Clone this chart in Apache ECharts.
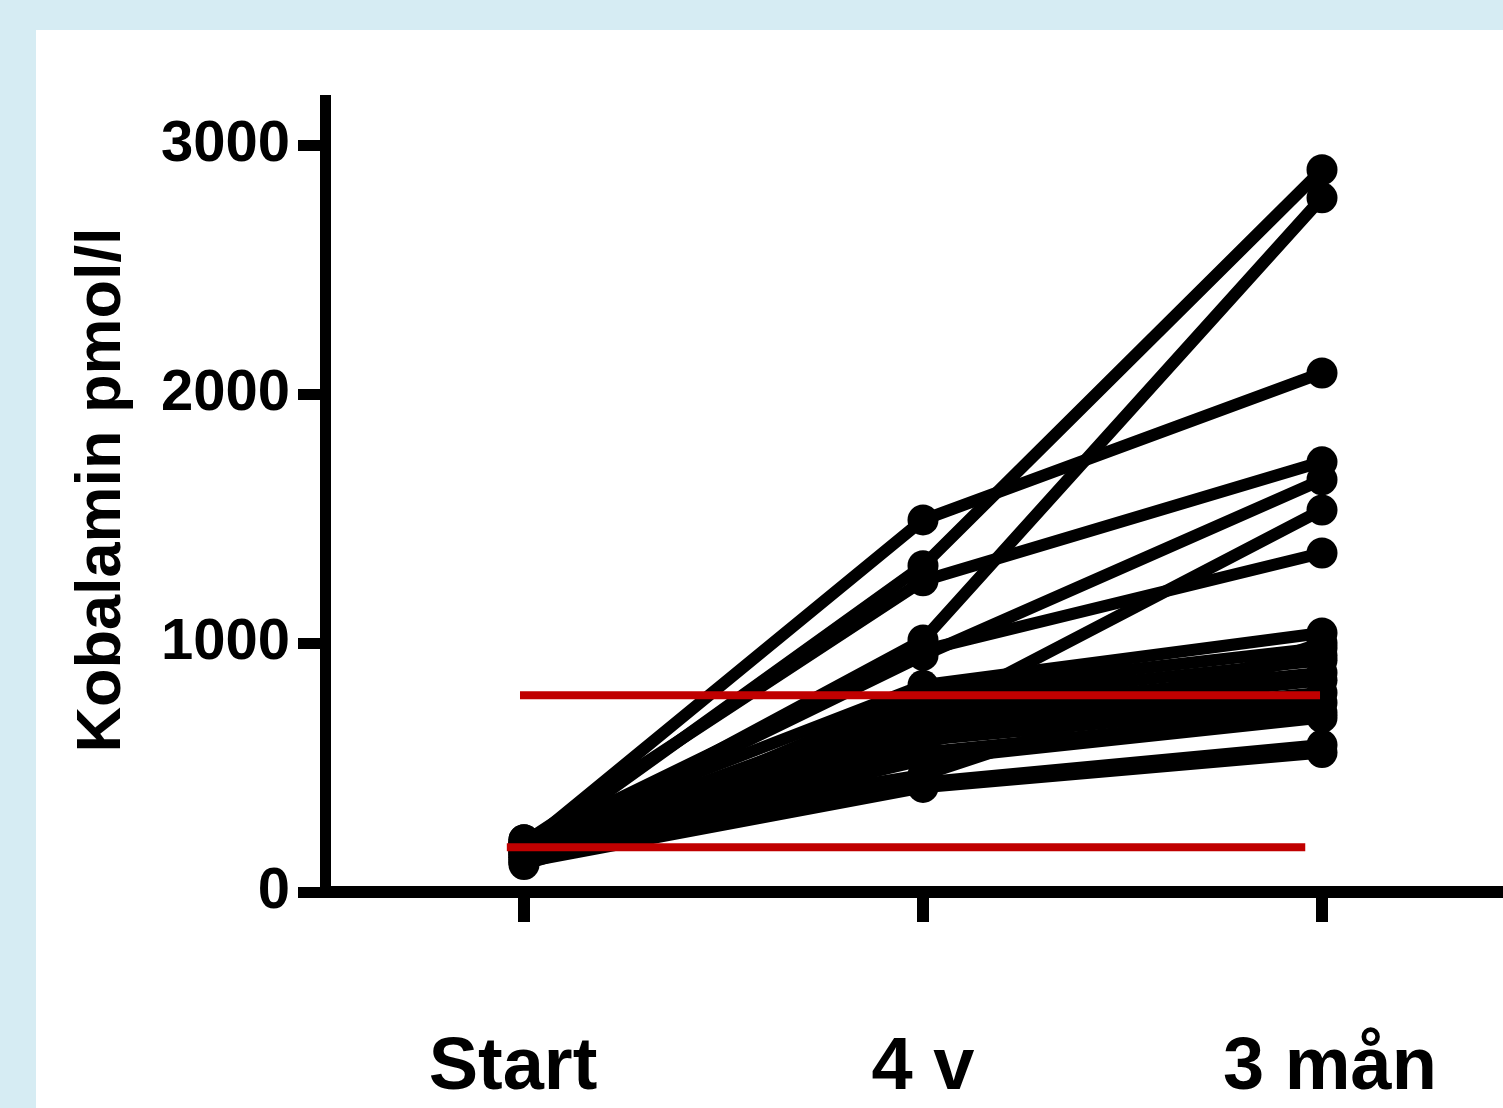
<!DOCTYPE html>
<html>
<head>
<meta charset="utf-8">
<script src="https://cdn.jsdelivr.net/npm/echarts@6/dist/echarts.min.js"></script>
<style>
html,body{margin:0;padding:0;background:#d6ecf3;}
#chart{width:1503px;height:1108px;}
</style>
</head>
<body>
<div id="chart"></div>
<script>
// Time points
var categories = ['Start', '4 v', '3 mån'];
// Kobalamin (pmol/l) per patient at each time point
var startVals = [180, 160, 200, 150, 170, 190, 140, 210, 120, 180, 130, 200, 160, 110, 190, 150, 170, 120, 210, 140];
var weekVals  = [1494, 1310, 1250, 1012, 950, 970, 700, 830, 800, 760, 720, 680, 650, 610, 560, 530, 440, 420, 470, 600];
var monthVals = [2084, 2900, 1727, 2787, 1655, 1361, 1534, 1040, 980, 930, 880, 850, 800, 760, 720, 700, 590, 560, 1000, 950];
// Reference lines: [x, value] end points
var refUpper = [[-0.01, 790], [1.995, 790]];
var refLower = [[-0.043, 180], [1.958, 180]];
var yTicks = [0, 1000, 2000, 3000];
var xTicks = [0, 1, 2];

var chart = echarts.init(document.getElementById('chart'));
var series = [];
for (var i = 0; i < startVals.length; i++) {
  series.push({
    type: 'line',
    data: [[0, startVals[i]], [1, weekVals[i]], [2, monthVals[i]]],
    symbol: 'circle',
    symbolSize: 31,
    lineStyle: { color: '#000', width: 12, join: 'round', cap: 'round' },
    itemStyle: { color: '#000' },
    silent: true,
    animation: false,
    z: 2
  });
}
[refUpper, refLower].forEach(function (d) {
  series.push({
    type: 'line',
    data: d,
    symbol: 'none',
    lineStyle: { color: '#c00000', width: 8, cap: 'butt' },
    silent: true,
    animation: false,
    z: 5
  });
});

var labelFont = {
  fontSize: 74,
  fontWeight: 'bold',
  fontFamily: '"Liberation Sans", Arial, sans-serif',
  color: '#000'
};

chart.setOption({
  backgroundColor: '#d6ecf3',
  animation: false,
  graphic: [
    { type: 'rect', z: -10, shape: { x: 36, y: 30, width: 1500, height: 1100 }, style: { fill: '#ffffff' } },
    { type: 'text', x: 103, y: 490, rotation: Math.PI / 2,
      style: { text: 'Kobalamin pmol/l', font: 'bold 63px "Liberation Sans", Arial, sans-serif',
               fill: '#000', textAlign: 'center', textVerticalAlign: 'middle' } }
  ],
  grid: { left: 325, right: 0, top: 95, bottom: 216, containLabel: false },
  xAxis: {
    type: 'value',
    min: -0.4987,
    max: 2.4536,
    splitLine: { show: false },
    axisLine: { show: true, onZero: false, lineStyle: { color: '#000', width: 12, cap: 'butt' } },
    axisTick: { show: true, customValues: xTicks, length: 30, lineStyle: { color: '#000', width: 12 } },
    axisLabel: {
      customValues: xTicks,
      margin: 140,
      fontSize: 74,
      fontWeight: 'bold',
      fontFamily: '"Liberation Sans", Arial, sans-serif',
      color: '#000',
      formatter: function (v) {
        var k = Math.round(v);
        return '{c' + k + '|' + categories[k] + '}';
      },
      rich: {
        c0: Object.assign({ padding: [0, 22, 12, 0] }, labelFont),
        c1: Object.assign({ padding: [0, 0, 0, 0] }, labelFont),
        c2: Object.assign({ padding: [0, 0, 0, 16] }, labelFont)
      }
    }
  },
  yAxis: {
    type: 'value',
    min: 0,
    max: 3200,
    splitLine: { show: false },
    axisLine: { show: true, onZero: false, lineStyle: { color: '#000', width: 11, cap: 'butt' } },
    axisTick: { show: true, customValues: yTicks, length: 27, lineStyle: { color: '#000', width: 11 } },
    axisLabel: {
      customValues: yTicks,
      margin: 35,
      fontSize: 58,
      fontWeight: 'bold',
      fontFamily: '"Liberation Sans", Arial, sans-serif',
      color: '#000',
      formatter: function (v) { return String(v); }
    }
  },
  series: series
});
</script>
</body>
</html>
